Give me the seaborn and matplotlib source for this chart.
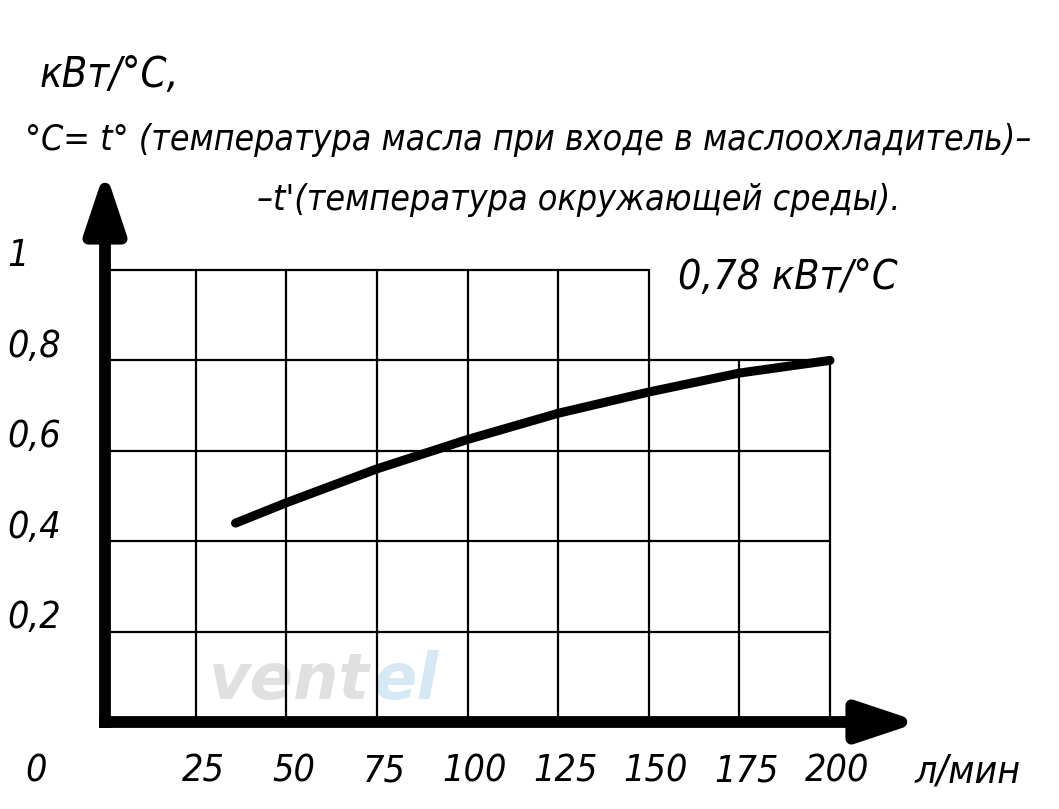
import matplotlib
matplotlib.use("Agg")
import matplotlib.pyplot as plt
import seaborn as sns
import pandas as pd

# flow rate, l/min and heat rejection, kW/°C
flow = [36, 50, 75, 100, 125, 150, 175, 200]
power = [0.44, 0.485, 0.56, 0.625, 0.683, 0.73, 0.772, 0.80]

x_ticks = [25, 50, 75, 100, 125, 150, 175, 200]
x_labels = ["25", "50", "75", "100", "125", "150", "175", "200"]
y_ticks = [0.2, 0.4, 0.6, 0.8, 1.0]
y_labels = ["0,2", "0,4", "0,6", "0,8", "1"]

title_lines = [
    "кВт/°С,",
    "°С= t° (температура масла при входе в маслоохладитель)–",
    "–t'(температура окружающей среды).",
]
note = "0,78 кВт/°С"
x_unit = "л/мин"

sns.set_style("white")
plt.rcParams["font.family"] = ["DejaVu Sans"]

df = pd.DataFrame({"flow": flow, "power": power})

fig = plt.figure(figsize=(10.59, 8.09), dpi=100)
ax = fig.add_axes([0, 0, 1, 1])
# pixel mapping: x=0 at 105px, 200 at 830px; y=0 at 722px, 1 at 270px
sx = 725 / 200
sy = 452
ax.set_xlim(-105 / sx, (1059 - 105) / sx)
ax.set_ylim(-(809 - 722) / sy, 722 / sy)
ax.axis("off")

font = dict(family="DejaVu Sans", style="italic", fontstretch="condensed",
            color="black")

# grid
for xv in [0] + x_ticks:
    top = 1.0 if xv <= 150 else 0.8
    ax.plot([xv, xv], [0, top], color="black", lw=1.6, zorder=1)
for yv in y_ticks:
    right = 150 if yv >= 1.0 else 200
    ax.plot([0, right], [yv, yv], color="black", lw=1.6, zorder=1)

# thick axes with arrows
arrow = dict(arrowstyle="-|>,head_length=3.6,head_width=1.2",
             lw=8.5, color="black", shrinkA=0, shrinkB=0, capstyle="butt")
ax.annotate("", xy=(0, (722 - 170) / sy), xytext=(0, -6 / sy),
            arrowprops=arrow, zorder=3)
ax.annotate("", xy=(815 / sx, 0), xytext=(-6 / sx, 0),
            arrowprops=arrow, zorder=3)

# curve
sns.lineplot(data=df, x="flow", y="power", ax=ax, color="black", lw=6.5,
             zorder=4, legend=False)

# watermark
ax.text(73, 0.09, "vent", fontsize=46, fontweight="bold", style="italic",
        color="#e0e0e0", ha="right", va="center", zorder=0)
ax.text(74, 0.09, "el", fontsize=46, fontweight="bold", style="italic",
        color="#d6e8f4", ha="left", va="center", zorder=0)

# tick labels
fs = 27
ax.text(-19, -0.11, "0", fontsize=fs, ha="center", va="center", **font)
for xv, lab in zip(x_ticks, x_labels):
    ax.text(xv + 2, -0.11, lab, fontsize=fs, ha="center", va="center", **font)
ax.text(238, -0.11, x_unit, fontsize=28, ha="center", va="center", **font)
for yv, lab in zip(y_ticks, y_labels):
    ax.text(-27, yv + 0.03, lab, fontsize=fs, ha="left", va="center", **font)

# headings
ax.text(-18, (722 - 75) / sy, title_lines[0], fontsize=30, ha="left", va="center", **font)
ax.text(-22, (722 - 140) / sy, title_lines[1], fontsize=25.6, ha="left", va="center", **font)
ax.text(42, (722 - 200) / sy, title_lines[2], fontsize=25.7, ha="left", va="center", **font)
ax.text(158, (722 - 278) / sy, note, fontsize=29.5, ha="left", va="center", **font)

fig.savefig("out.png", dpi=100)
